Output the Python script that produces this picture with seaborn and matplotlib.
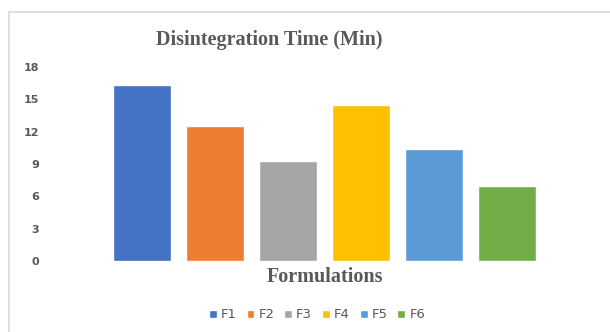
import matplotlib.pyplot as plt
import pandas as pd
import seaborn as sb
from matplotlib.patches import Rectangle

# data
formulations = ["F1", "F2", "F3", "F4", "F5", "F6"]
disintegration_min = [16.3, 12.5, 9.3, 14.5, 10.4, 7.0]
bar_colors = ["#4472C4", "#ED7D31", "#A5A5A5", "#FFC000", "#5B9BD5", "#70AD47"]
y_ticks = [0, 3, 6, 9, 12, 15, 18]

if __name__ == "__main__":
    sb.set_style("white")
    plt.rcParams["font.family"] = ["DejaVu Sans"]
    text_grey = "#595959"

    df = pd.DataFrame({"Formulation": formulations, "Time": disintegration_min})

    fig = plt.figure(figsize=(6.10, 3.32), dpi=100)
    ax = fig.add_axes([105.5 / 610, 71 / 332, 438 / 610, 194 / 332])

    sb.barplot(
        data=df,
        x="Formulation",
        y="Time",
        hue="Formulation",
        palette=bar_colors,
        width=0.79,
        saturation=1,
        legend=True,
        ax=ax,
    )

    ax.set_xlim(-0.5, 5.5)
    ax.set_ylim(0, 18)
    ax.set_yticks(y_ticks)
    ax.set_yticklabels([str(t) for t in y_ticks], fontsize=8, fontweight="bold", color=text_grey)
    ax.tick_params(axis="y", length=0, pad=48)
    ax.set_xticks([])
    ax.set_ylabel("")
    ax.set_xlabel("Formulations", family="Liberation Serif", weight="bold", size=14.5,
                  color=text_grey, labelpad=4)
    for s in ax.spines.values():
        s.set_visible(False)

    sb.move_legend(
        ax,
        "center",
        bbox_to_anchor=(317 / 610, 17 / 332),
        bbox_transform=fig.transFigure,
        ncol=6,
        frameon=False,
        title=None,
        fontsize=9.5,
        handlelength=0.6,
        handleheight=0.6,
        handletextpad=0.3,
        columnspacing=0.75,
        labelcolor=text_grey,
    )

    fig.text(269 / 610, 292 / 332, "Disintegration Time (Min)", ha="center", va="center",
             family="Liberation Serif", weight="bold", size=14.5, color=text_grey)

    # chart frame (cropped at right and bottom)
    fig.patches.append(Rectangle((9 / 610, -0.1), 1.0, (320 / 332) + 0.1,
                                 transform=fig.transFigure, fill=False,
                                 edgecolor="#d9d9d9", linewidth=1.2))

    plt.savefig("out.png", dpi=100)
    plt.close()
